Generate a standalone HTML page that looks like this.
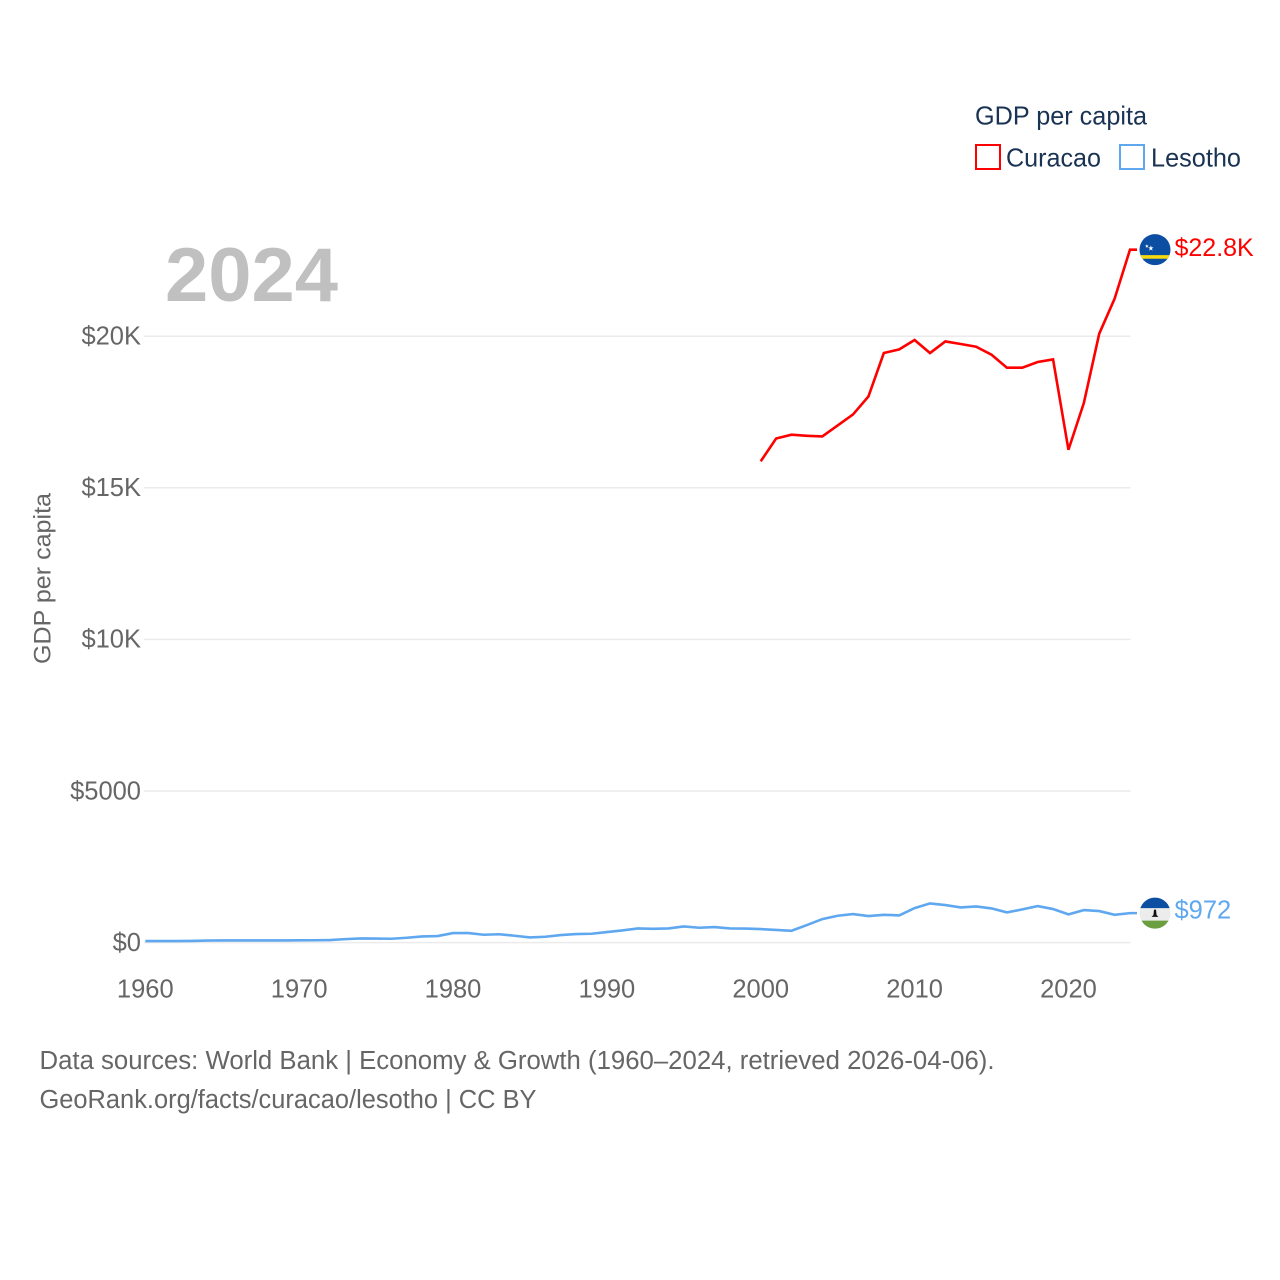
<!DOCTYPE html>
<html lang="en">
<head>
<meta charset="utf-8">
<title>GDP per capita: Curacao and Lesotho</title>
<style>
html,body{margin:0;padding:0;background:#fff;width:1280px;height:1280px;overflow:hidden}
svg{display:block}
text{font-family:"Liberation Sans",sans-serif}
.tick{font-size:25.5px;fill:#666}
.legend{font-size:26px;fill:#1a3353}
.foot{font-size:25.5px;fill:#666}
</style>
</head>
<body>
<svg id="chart" xmlns="http://www.w3.org/2000/svg" width="1280" height="1280" viewBox="0 0 1280 1280">
  <defs>
    <clipPath id="clip-flag-a"><circle cx="0" cy="0" r="15.5"></circle></clipPath>
    <clipPath id="clip-flag-b"><circle cx="0" cy="0" r="15.5"></circle></clipPath>
  </defs>
  <rect x="0" y="0" width="1280" height="1280" fill="#ffffff"></rect>

  <g>
    <text class="legend" x="975" y="124.5" textLength="172" lengthAdjust="spacingAndGlyphs">GDP per capita</text>
    <rect x="976" y="145" width="24" height="24" fill="none" stroke="#ff0000" stroke-width="2"></rect>
    <text class="legend" x="1006" y="166.5" textLength="95" lengthAdjust="spacingAndGlyphs">Curacao</text>
    <rect x="1120" y="145" width="24" height="24" fill="none" stroke="#5fa8f0" stroke-width="2"></rect>
    <text class="legend" x="1151" y="166.5" textLength="90" lengthAdjust="spacingAndGlyphs">Lesotho</text>
  </g>

  <text x="165" y="301" font-size="76" font-weight="700" fill="#c0c0c0" textLength="173" lengthAdjust="spacingAndGlyphs">2024</text>

  <text transform="translate(50.5,664) rotate(-90)" font-size="24.5" fill="#666" textLength="171" lengthAdjust="spacingAndGlyphs">GDP per capita</text>

  <g id="grid"></g>
  <g id="y-ticks"></g>
  <g id="x-ticks"></g>
  <g id="series"></g>
  <g id="ends"></g>

  <text class="foot" x="39.5" y="1069" textLength="955" lengthAdjust="spacingAndGlyphs">Data sources: World Bank | Economy &amp; Growth (1960–2024, retrieved 2026-04-06).</text>
  <text class="foot" x="39.5" y="1108" textLength="497" lengthAdjust="spacingAndGlyphs">GeoRank.org/facts/curacao/lesotho | CC BY</text>
</svg>

<script>
var years = [1960,1961,1962,1963,1964,1965,1966,1967,1968,1969,1970,1971,1972,1973,1974,1975,1976,1977,1978,1979,1980,1981,1982,1983,1984,1985,1986,1987,1988,1989,1990,1991,1992,1993,1994,1995,1996,1997,1998,1999,2000,2001,2002,2003,2004,2005,2006,2007,2008,2009,2010,2011,2012,2013,2014,2015,2016,2017,2018,2019,2020,2021,2022,2023,2024];
var lesothoValues = [50,50,52,55,68,70,72,72,72,72,74,78,83,115,138,133,127,160,204,215,314,314,259,275,226,170,193,248,280,292,347,400,468,456,468,534,490,512,468,462,446,418,390,578,776,886,940,875,918,897,1139,1293,1238,1160,1194,1128,995,1095,1205,1106,930,1073,1040,918,972];
var curacaoValues = [null,null,null,null,null,null,null,null,null,null,null,null,null,null,null,null,null,null,null,null,null,null,null,null,null,null,null,null,null,null,null,null,null,null,null,null,null,null,null,null,15875,16627,16750,16716,16693,17056,17420,18013,19445,19564,19874,19445,19828,19742,19653,19389,18960,18960,19148,19234,16254,17795,20083,21238,22855];
var yTickValues = [0,5000,10000,15000,20000];
var yTickLabels = ["$0","$5000","$10K","$15K","$20K"];
var xTickValues = [1960,1970,1980,1990,2000,2010,2020];
var curacaoEndLabel = "$22.8K";
var lesothoEndLabel = "$972";

var NS = "http://www.w3.org/2000/svg";
function xScale(year){ return 145.3 + (year - 1960) * (1130 - 145.3) / 64; }
function yScale(v){ return 942.6 - v * 0.03032; }
function make(tag, attrs, parent){
  var el = document.createElementNS(NS, tag);
  for (var k in attrs) el.setAttribute(k, attrs[k]);
  parent.appendChild(el);
  return el;
}
var grid = document.getElementById("grid");
var yTicks = document.getElementById("y-ticks");
var xTicks = document.getElementById("x-ticks");
var series = document.getElementById("series");
var ends = document.getElementById("ends");

yTickValues.forEach(function(v, i){
  var line = make("line", {x1:144, x2:1130.5, y1:yScale(v), y2:yScale(v), stroke:"#ebebeb", "stroke-width":1.5}, grid);
  
  
  var t = make("text", {x:141, y:yScale(v)+8.3, "text-anchor":"end", "class":"tick"}, yTicks);
  
  
  t.textContent = yTickLabels[i];
});

xTickValues.forEach(function(year){
  var t = make("text", {x:xScale(year), y:997.5, "text-anchor":"middle", "class":"tick"}, xTicks);
  
  
  t.textContent = String(year);
});

function linePoints(values){
  var pts = [];
  values.forEach(function(v, i){
    if (v !== null) pts.push(xScale(years[i]).toFixed(2) + "," + yScale(v).toFixed(2));
  });
  return pts;
}
function addLine(values, colour){
  var last = values[values.length - 1];
  var pts = linePoints(values);
  pts.push((xScale(years[years.length - 1]) + 7).toFixed(2) + "," + yScale(last).toFixed(2));
  return make("polyline", {points:pts.join(" "), fill:"none", stroke:colour, "stroke-width":2.6, "stroke-linejoin":"miter", "stroke-linecap":"butt"}, series);
}
var lesothoLine = addLine(lesothoValues, "#5fa8f0");


var curacaoLine = addLine(curacaoValues, "#ff0000");



var lastCuracao = curacaoValues[curacaoValues.length - 1];
var lastLesotho = lesothoValues[lesothoValues.length - 1];
var flagX = xScale(2024) + 25;

var curacaoFlag = make("g", {transform:"translate(" + flagX + "," + yScale(lastCuracao) + ")", "clip-path":"url(#clip-flag-a)"}, ends);


make("rect", {x:-16, y:-16, width:32, height:32, fill:"#0b4ea2"}, curacaoFlag);
make("rect", {x:-16, y:5.5, width:32, height:3.6, fill:"#f9d90f"}, curacaoFlag);
make("polygon", {points:"-5,-6.5 -4.1,-3.8 -1.4,-3.8 -3.6,-2.1 -2.7,0.6 -5,-1.1 -7.3,0.6 -6.4,-2.1 -8.6,-3.8 -5.9,-3.8", fill:"#ffffff", transform:"translate(0,1) scale(0.75) translate(-0.5,-0.5)"}, curacaoFlag);
make("polygon", {points:"-9,-8 -8.4,-6.6 -7,-6.5 -8.1,-5.5 -7.7,-4.1 -9,-4.9 -10.3,-4.1 -9.9,-5.5 -11,-6.5 -9.6,-6.6", fill:"#ffffff", transform:"translate(-0.5,1.5) scale(0.85)"}, curacaoFlag);

var lesothoFlag = make("g", {transform:"translate(" + flagX + "," + yScale(lastLesotho) + ")", "clip-path":"url(#clip-flag-b)"}, ends);


make("rect", {x:-16, y:-16, width:32, height:32, fill:"#ececec"}, lesothoFlag);
make("rect", {x:-16, y:-16, width:32, height:11, fill:"#0b4ea2"}, lesothoFlag);
make("rect", {x:-16, y:7.5, width:32, height:9, fill:"#6a9e3f"}, lesothoFlag);
make("polygon", {points:"-1,-3.5 1,-3.5 1.6,2 3.5,3.8 -3.5,3.8 -1.6,2", fill:"#111111"}, lesothoFlag);

var curacaoLabel = make("text", {x:xScale(2024)+44.5, y:yScale(lastCuracao)+6.5, "font-size":25, fill:"#ff0000"}, ends);


curacaoLabel.textContent = curacaoEndLabel;

var lesothoLabel = make("text", {x:xScale(2024)+44.5, y:yScale(lastLesotho)+5.5, "font-size":25.5, fill:"#5fa8f0"}, ends);


lesothoLabel.textContent = lesothoEndLabel;
</script>
</body>
</html>
